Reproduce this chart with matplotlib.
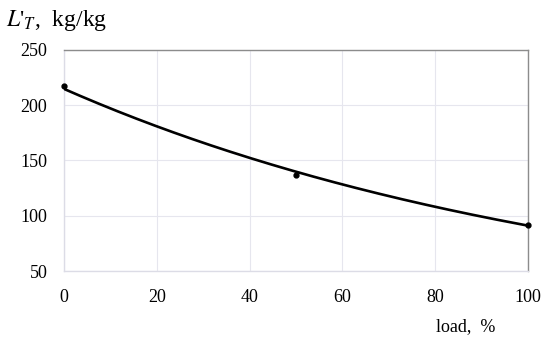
import numpy as np
import matplotlib.pyplot as plt

# measured points
load = [0, 50, 100]
lt = [217, 137, 92]

# exponential trendline fitted to the points (like an Excel trendline)
slope, icpt = np.polyfit(load, np.log(lt), 1)
x_fit = np.linspace(0, 100, 200)
y_fit = np.exp(icpt + slope * x_fit)

plt.rcParams['font.family'] = ['Liberation Serif', 'DejaVu Serif']
plt.rcParams['mathtext.fontset'] = 'stix'

fig = plt.figure(figsize=(5.5, 3.44), dpi=100)
ax = fig.add_axes([0.1164, 0.2122, 0.8436, 0.6425])

ax.plot(x_fit, y_fit, color='black', lw=1.9, zorder=3)
ax.plot(load, lt, 'o', color='black', ms=3.5, zorder=4, clip_on=False)

ax.set_xlim(0, 100)
ax.set_ylim(50, 250)
ax.set_xticks([0, 20, 40, 60, 80, 100])
ax.set_yticks([50, 100, 150, 200, 250])
ax.grid(True, color='#e6e6ee', lw=0.8)
ax.tick_params(length=0, labelsize=13)
ax.tick_params(axis='x', pad=13)
ax.tick_params(axis='y', pad=12)

for s in ['left', 'bottom']:
    ax.spines[s].set_color('#dcdce6')
    ax.spines[s].set_linewidth(1.0)
for s in ['top', 'right']:
    ax.spines[s].set_color('#8c8c8c')
    ax.spines[s].set_linewidth(1.0)

fig.text(0.01, 0.94, r"$L$'$_{T}$,  kg/kg", fontsize=17, ha='left', va='center')
fig.text(0.90, 0.05, "load,  %", fontsize=13, ha='right', va='center')

fig.savefig('out.png', dpi=100)
